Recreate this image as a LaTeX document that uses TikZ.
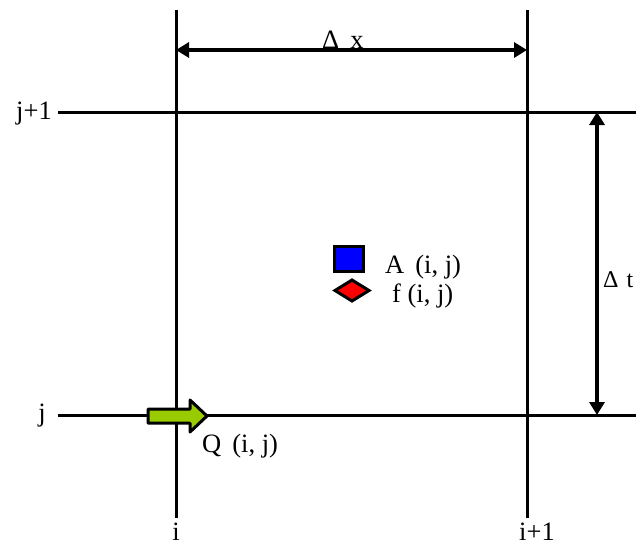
\documentclass[tikz,border=0pt]{standalone}
\usepackage{fontspec}
\setmainfont{Liberation Serif}
\usetikzlibrary{arrows.meta}
\begin{document}
\begin{tikzpicture}[x=1pt,y=-1pt,
  gridline/.style={line width=3pt},
  dimarrow/.style={line width=4pt,{Triangle[length=13pt,width=15pt]}-{Triangle[length=13pt,width=15pt]}},
  lbl/.style={font=\fontsize{26.5}{30}\selectfont,inner sep=0pt}]
\useasboundingbox (0,0) rectangle (636,546);
% grid lines
\coordinate (vi1) at (176,10); \coordinate (vi2) at (176,518);
\coordinate (vk1) at (527,10); \coordinate (vk2) at (527,518);
\coordinate (hj1a) at (58,112); \coordinate (hj1b) at (636,112);
\coordinate (hja) at (58,415); \coordinate (hjb) at (636,415);
\draw[gridline] (vi1) -- (vi2);
\draw[gridline] (vk1) -- (vk2);
\draw[gridline] (hj1a) -- (hj1b);
\draw[gridline] (hja) -- (hjb);
% dimension arrows
\coordinate (dxa) at (176,50); \coordinate (dxb) at (527,50);
\draw[dimarrow] (dxa) -- (dxb);
\node[lbl,anchor=base west] (dx) at (322,48) {Δ\ \,x};
\coordinate (dta) at (597,112); \coordinate (dtb) at (597,415);
\draw[dimarrow] (dta) -- (dtb);
\node[lbl,anchor=base west,font=\fontsize{24}{28}\selectfont] (dt) at (603,287) {Δ\,\,t};
% labels
\node[lbl,anchor=base east] (lj1) at (52,119) {j+1};
\node[lbl,anchor=base east] (lj) at (46,421) {j};
\node[lbl,anchor=base] (li) at (176,540) {i};
\node[lbl,anchor=base west] (li1) at (519,540) {i+1};
% square and diamond
\node[draw,line width=3pt,fill=blue,minimum width=29pt,minimum height=25pt,inner sep=0pt] (sq) at (349,259) {};
\draw[line width=3pt,fill=red] (335,290.5) -- (352,280) -- (369,290.5) -- (352,301) -- cycle;
\node[lbl,anchor=base west] (A) at (385,273) {A\ \,(i,\ j)};
\node[lbl,anchor=base west] (f) at (392,302) {f\ (i,\ j)};
% green arrow
\draw[line width=3pt,fill={rgb,255:red,153;green,204;blue,0},line join=round]
  (148,409) -- (190,409) -- (190,400) -- (207,416) -- (190,432) -- (190,423) -- (148,423) -- cycle;
\node[lbl,anchor=base west] (Q) at (202,452) {Q\ \,(i,\ j)};
\end{tikzpicture}
\end{document}
